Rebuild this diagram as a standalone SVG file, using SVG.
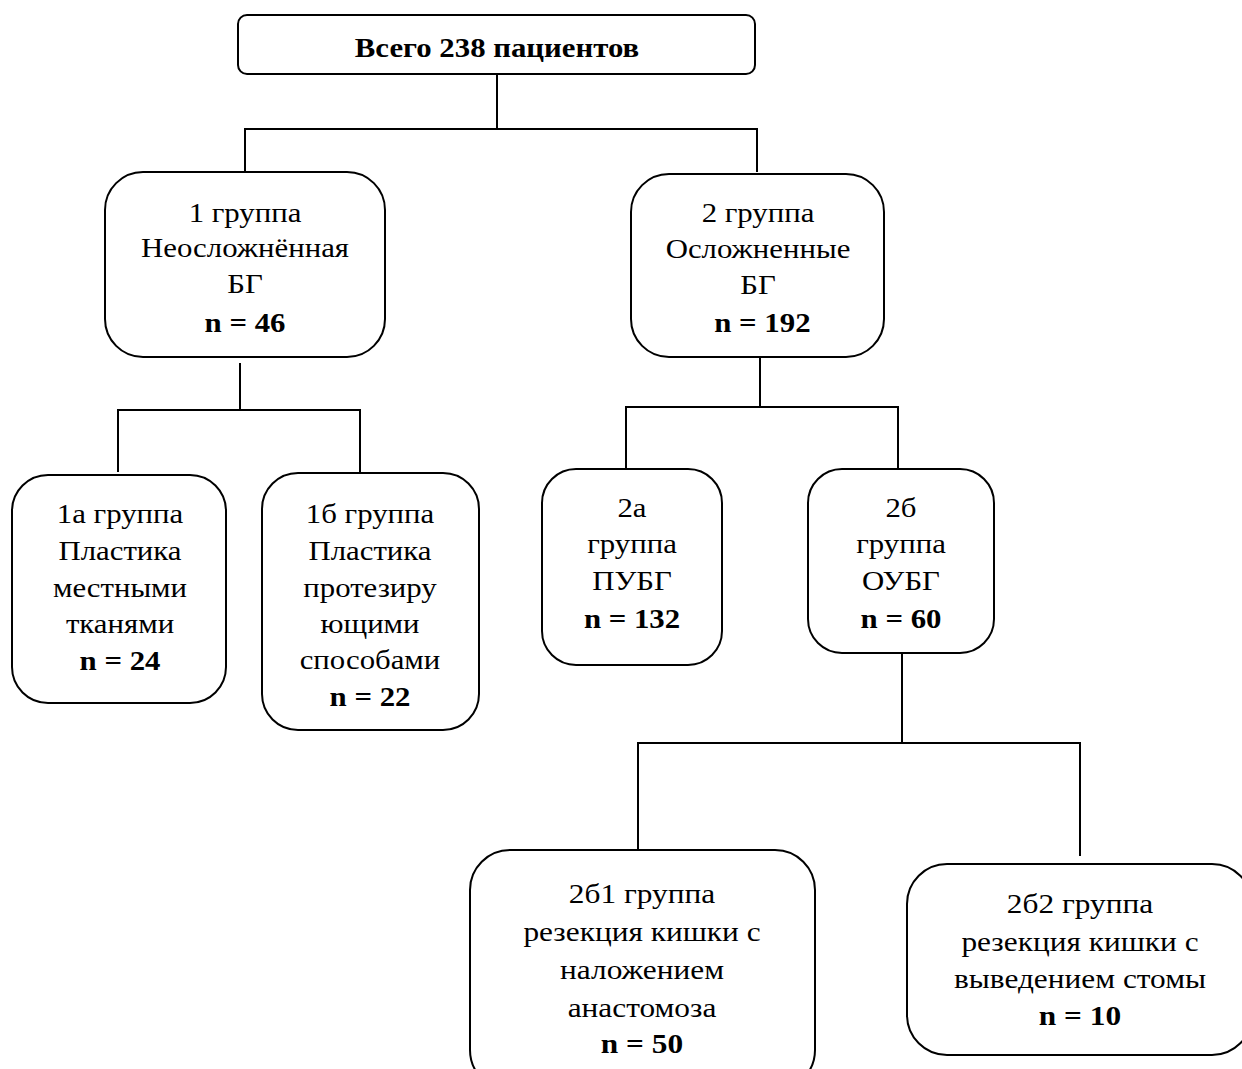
<svg xmlns="http://www.w3.org/2000/svg" width="1242" height="1069" viewBox="0 0 1242 1069">
<style>
.box{fill:#fff;stroke:#000;stroke-width:2}
.ln{fill:none;stroke:#000;stroke-width:2}
text{font-family:"Liberation Serif","Times New Roman",serif;font-size:28px;fill:#000;text-anchor:middle}
.b{font-weight:bold}
</style>
<rect width="1242" height="1069" fill="#fff"/>
<g id="connectors">
<path class="ln" d="M497 74V128M245 172V129H757V172"/>
<path class="ln" d="M240 363V409M118 472V410H360V472"/>
<path class="ln" d="M760 357V406M626 468V407H898V468"/>
<path class="ln" d="M902 653V743M638 850V743H1080V856"/>
</g>
<g id="n0">
<rect class="box" x="238" y="15" width="517" height="59" rx="9"/>
<g transform="translate(497 0) scale(1.1 1)"><text class="b" x="0" y="57" font-size="27">Всего 238 пациентов</text></g>
</g>
<g id="n1">
<rect class="box" x="105" y="172" width="280" height="185" rx="38"/>
<g transform="translate(245 0) scale(1.1 1)">
<text x="0" y="222">1 группа</text>
<text x="0" y="257">Неосложнённая</text>
<text x="0" y="293">БГ</text>
<text class="b" x="0" y="332">n = 46</text>
</g>
</g>
<g id="n2">
<rect class="box" x="631" y="174" width="253" height="183" rx="38"/>
<g transform="translate(758 0) scale(1.1 1)">
<text x="0" y="222">2 группа</text>
<text x="0" y="258">Осложненные</text>
<text x="0" y="294">БГ</text>
<text class="b" x="4" y="332">n = 192</text>
</g>
</g>
<g id="n1a">
<rect class="box" x="12" y="475" width="214" height="228" rx="36"/>
<g transform="translate(120 0) scale(1.1 1)">
<text x="0" y="523">1а группа</text>
<text x="0" y="560">Пластика</text>
<text x="0" y="597">местными</text>
<text x="0" y="633">тканями</text>
<text class="b" x="0" y="670">n = 24</text>
</g>
</g>
<g id="n1b">
<rect class="box" x="262" y="473" width="217" height="257" rx="36"/>
<g transform="translate(370 0) scale(1.1 1)">
<text x="0" y="523">1б группа</text>
<text x="0" y="560">Пластика</text>
<text x="0" y="597">протезиру</text>
<text x="0" y="633">ющими</text>
<text x="0" y="669">способами</text>
<text class="b" x="0" y="706">n = 22</text>
</g>
</g>
<g id="n2a">
<rect class="box" x="542" y="469" width="180" height="196" rx="34"/>
<g transform="translate(632 0) scale(1.1 1)">
<text x="0" y="517">2а</text>
<text x="0" y="553">группа</text>
<text x="0" y="590">ПУБГ</text>
<text class="b" x="0" y="628">n = 132</text>
</g>
</g>
<g id="n2b">
<rect class="box" x="808" y="469" width="186" height="184" rx="34"/>
<g transform="translate(901 0) scale(1.1 1)">
<text x="0" y="517">2б</text>
<text x="0" y="553">группа</text>
<text x="0" y="590">ОУБГ</text>
<text class="b" x="0" y="628">n = 60</text>
</g>
</g>
<g id="n2b1">
<rect class="box" x="470" y="850" width="345" height="240" rx="40"/>
<g transform="translate(642 0) scale(1.12 1)">
<text x="0" y="903">2б1 группа</text>
<text x="0" y="941">резекция кишки с</text>
<text x="0" y="979">наложением</text>
<text x="0" y="1017">анастомоза</text>
<text class="b" x="0" y="1053">n = 50</text>
</g>
</g>
<g id="n2b2">
<rect class="box" x="907" y="864" width="345" height="191" rx="40"/>
<g transform="translate(1080 0) scale(1.12 1)">
<text x="0" y="913">2б2 группа</text>
<text x="0" y="951">резекция кишки с</text>
<text x="0" y="988">выведением стомы</text>
<text class="b" x="0" y="1025">n = 10</text>
</g>
</g>
</svg>
